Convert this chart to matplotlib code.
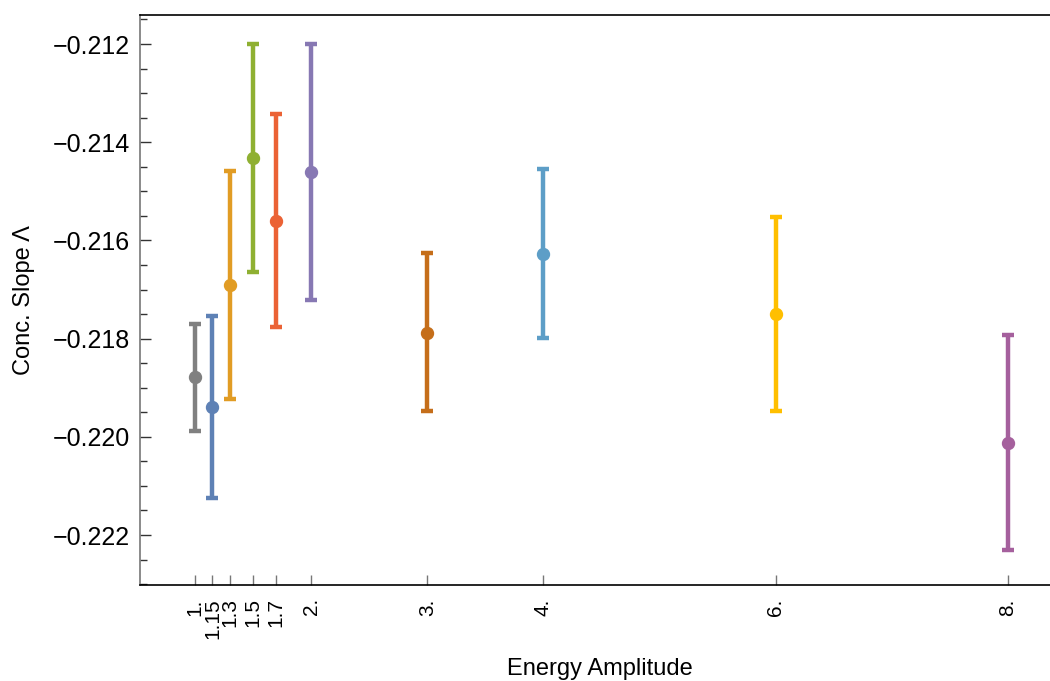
import matplotlib
matplotlib.use("Agg")
import matplotlib.pyplot as plt
from matplotlib.ticker import MultipleLocator, FixedLocator

# ---- data ----
amplitudes = [1.0, 1.15, 1.3, 1.5, 1.7, 2.0, 3.0, 4.0, 6.0, 8.0]
tick_labels = ["1.", "1.15", "1.3", "1.5", "1.7", "2.", "3.", "4.", "6.", "8."]
slopes = [-0.21878, -0.21939, -0.21691, -0.21432, -0.21560, -0.21461,
          -0.21788, -0.21627, -0.21749, -0.22012]
upper = [-0.21770, -0.21753, -0.21459, -0.21200, -0.21343, -0.21200,
         -0.21626, -0.21455, -0.21552, -0.21793]
lower = [-0.21988, -0.22125, -0.21923, -0.21664, -0.21776, -0.21722,
         -0.21948, -0.21798, -0.21947, -0.22231]
colors = ["#808080", "#5E81B5", "#E19C24", "#8FB032", "#EB6235", "#8778B3",
          "#C56E1A", "#5D9EC7", "#FFBF00", "#A5609D"]

plt.rcParams['font.family'] = ['Liberation Sans', 'DejaVu Sans']
FS = 17

fig = plt.figure(figsize=(10.5, 6.81), dpi=100)
ax = fig.add_axes([140/1050, 96/681, 910/1050, 570/681])

for x, y, hi, lo, c in zip(amplitudes, slopes, upper, lower, colors):
    ax.errorbar([x], [y], yerr=[[y - lo], [hi - y]], fmt='o', color=c,
                markersize=8.6, elinewidth=3.2, capsize=4.6, capthick=3.2)

ax.set_xlim(0.5264, 8.3616)
ax.set_ylim(-0.223018, -0.211409)

ax.xaxis.set_major_locator(FixedLocator(amplitudes))
ax.set_xticklabels(tick_labels, rotation=90, va='top', ha='center')
ax.yaxis.set_major_locator(MultipleLocator(0.002))
ax.yaxis.set_minor_locator(MultipleLocator(0.0005))
ax.yaxis.set_major_formatter(matplotlib.ticker.FuncFormatter(
    lambda v, p: ("\u2212%.3f" % abs(v)) if v < 0 else "%.3f" % v))

ax.tick_params(axis='x', direction='in', length=7.5, width=1.0, color='#777777',
               labelsize=15, pad=9.5)
ax.tick_params(axis='y', which='major', direction='in', length=8, width=1.0,
               color='#333333', labelsize=18, pad=7)
ax.tick_params(axis='y', which='minor', direction='in', length=5, width=1.0,
               color='#333333')

ax.spines['right'].set_visible(False)
ax.spines['left'].set_color('#777777')
ax.spines['left'].set_linewidth(1.2)
ax.spines['bottom'].set_color('black')
ax.spines['bottom'].set_linewidth(1.2)
ax.spines['top'].set_color('black')
ax.spines['top'].set_linewidth(1.2)

ax.set_xlabel("Energy Amplitude", fontsize=FS)
ax.set_ylabel("Conc. Slope \u039b", fontsize=FS)
ax.xaxis.set_label_coords(0.505, -0.128)
ax.yaxis.set_label_coords(-0.115, 0.5)

fig.savefig("out.png", dpi=100)
